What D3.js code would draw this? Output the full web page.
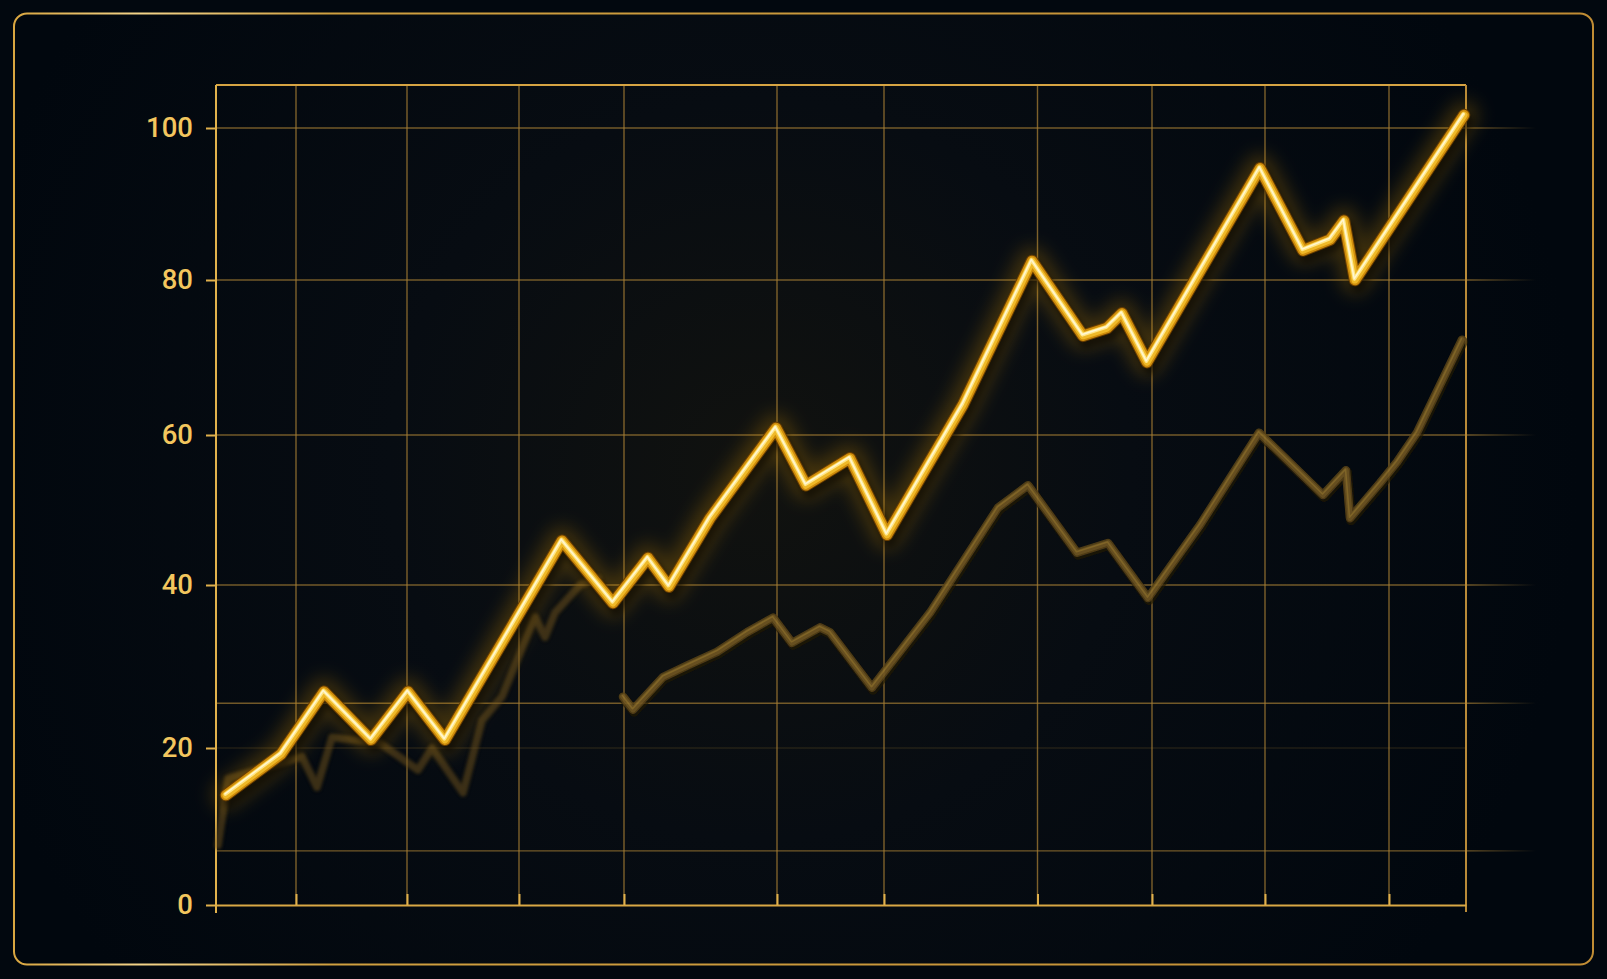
<!DOCTYPE html>
<html><head><meta charset="utf-8">
<script src="https://cdn.jsdelivr.net/npm/d3@7"></script>
<style>html,body{margin:0;padding:0;background:#02080f;overflow:hidden}</style>
</head><body><svg id="c" width="1607" height="979"></svg>
<script>
// ---- data ----
const yTicks = [0, 20, 40, 60, 80, 100];
const yGrid = [100, 80, 60, 40, 25.5, 6.9];
const yGridFaint = [20];
const xGrid = [6.4, 15.28, 24.24, 32.64, 44.88, 53.44, 65.72, 74.88, 83.92, 93.84];

const mainX = [0.8, 5.2, 8.64, 12.4, 15.36, 18.32, 27.68, 31.76, 34.56, 36.24, 39.52, 44.8, 47.2, 50.72, 53.68, 59.76, 65.28, 69.36, 71.28, 72.48, 74.48, 83.52, 86.96, 89.12, 90.24, 91.12, 99.84];
const mainY = [14.0, 19.2, 26.9, 21.0, 26.9, 21.0, 45.9, 37.8, 43.6, 39.8, 48.9, 60.9, 53.3, 56.9, 46.7, 63.9, 82.5, 72.8, 73.8, 75.7, 69.4, 94.7, 83.9, 85.3, 87.8, 80.0, 101.7];

const echoAX = [0.16, 0.96, 6.88, 8.08, 9.28, 13.12, 16.16, 17.28, 19.76, 21.28, 22.88, 25.52, 26.32, 27.12, 29.12, 30.56];
const echoAY = [7.6, 16.1, 18.9, 15.0, 21.3, 20.6, 17.2, 20.0, 14.3, 23.4, 26.3, 36.1, 33.6, 36.6, 40.0, 40.9];

const echoBX = [32.56, 33.36, 35.76, 37.68, 40.08, 42.48, 44.56, 46.08, 48.32, 49.12, 52.48, 57.12, 62.56, 64.96, 68.88, 71.36, 74.56, 78.72, 83.44, 85.92, 88.56, 90.4, 90.72, 93.12, 94.48, 96.08, 99.68];
const echoBY = [26.3, 24.7, 28.7, 30.1, 31.8, 34.2, 36.0, 32.9, 34.8, 34.2, 27.4, 36.6, 50.3, 53.3, 44.3, 45.6, 38.4, 48.0, 60.3, 56.3, 52.0, 55.3, 48.9, 53.6, 56.4, 60.3, 72.3];

// ---- layout ----
const W = 1607, H = 979;
const L = 216, R = 1466, T = 85, B = 905;
const svg = d3.select('#c');
const x = d3.scaleLinear().domain([0, 100]).range([L, R]);
const y = d3.scaleLinear().domain([0, 20, 40, 60, 80, 100]).range([905, 748, 585, 435, 280, 128]);

const defs = svg.append('defs');
const bg = defs.append('radialGradient').attr('id', 'bg').attr('gradientUnits', 'userSpaceOnUse')
  .attr('cx', 760).attr('cy', 470).attr('r', 820);
bg.append('stop').attr('offset', 0).attr('stop-color', '#11120f');
bg.append('stop').attr('offset', 0.45).attr('stop-color', '#070c12');
bg.append('stop').attr('offset', 1).attr('stop-color', '#01070e');

const gf = defs.append('linearGradient').attr('id', 'gfade').attr('gradientUnits', 'userSpaceOnUse')
  .attr('x1', L).attr('x2', R + 70).attr('y1', 0).attr('y2', 0);
gf.append('stop').attr('offset', 0).attr('stop-color', '#a07a32').attr('stop-opacity', 0.7);
gf.append('stop').attr('offset', (R - L) / (R + 70 - L)).attr('stop-color', '#a07a32').attr('stop-opacity', 0.7);
gf.append('stop').attr('offset', 1).attr('stop-color', '#a07a32').attr('stop-opacity', 0);

const fr = defs.append('linearGradient').attr('id', 'frameg').attr('gradientUnits', 'userSpaceOnUse')
  .attr('x1', 14).attr('x2', 1593).attr('y1', 0).attr('y2', 0);
fr.append('stop').attr('offset', 0).attr('stop-color', '#d9a640');
fr.append('stop').attr('offset', 0.08).attr('stop-color', '#f3d48a');
fr.append('stop').attr('offset', 0.2).attr('stop-color', '#d0a040');
fr.append('stop').attr('offset', 1).attr('stop-color', '#c08c34');

const glow = defs.append('filter').attr('id', 'glow').attr('x', '-20%').attr('y', '-20%').attr('width', '140%').attr('height', '140%');
glow.append('feGaussianBlur').attr('stdDeviation', 9);
const shadow = defs.append('filter').attr('id', 'shadow').attr('x', '-20%').attr('y', '-20%').attr('width', '140%').attr('height', '140%');
shadow.append('feGaussianBlur').attr('stdDeviation', 3);
const soft = defs.append('filter').attr('id', 'soft').attr('x', '-20%').attr('y', '-20%').attr('width', '140%').attr('height', '140%');
soft.append('feGaussianBlur').attr('stdDeviation', 1.6);
const softer = defs.append('filter').attr('id', 'softer').attr('x', '-20%').attr('y', '-20%').attr('width', '140%').attr('height', '140%');
softer.append('feGaussianBlur').attr('stdDeviation', 0.6);

// background
svg.append('rect').attr('width', W).attr('height', H).attr('fill', '#02080f');
svg.append('rect').attr('x', 14).attr('y', 13.5).attr('width', 1579).attr('height', 951).attr('rx', 13)
  .attr('fill', 'url(#bg)').attr('stroke', 'url(#frameg)').attr('stroke-width', 2);

// grid
const grid = svg.append('g');
grid.selectAll('line.h').data(yGrid).join('line').attr('class', 'h')
  .attr('x1', L).attr('x2', R + 70).attr('y1', d => y(d)).attr('y2', d => y(d))
  .attr('stroke', 'url(#gfade)').attr('stroke-width', 1.4);
grid.selectAll('line.hf').data(yGridFaint).join('line').attr('class', 'hf')
  .attr('x1', L).attr('x2', R).attr('y1', d => y(d)).attr('y2', d => y(d))
  .attr('stroke', '#a07a32').attr('stroke-opacity', 0.28).attr('stroke-width', 1.2);
grid.selectAll('line.v').data(xGrid).join('line').attr('class', 'v')
  .attr('x1', d => x(d)).attr('x2', d => x(d)).attr('y1', T).attr('y2', B)
  .attr('stroke', '#a67d34').attr('stroke-opacity', 0.75).attr('stroke-width', 1.4);

// plot frame
svg.append('line').attr('x1', L).attr('x2', R).attr('y1', T).attr('y2', T).attr('stroke', '#d6a443').attr('stroke-width', 2);
svg.append('line').attr('x1', L).attr('x2', L).attr('y1', T).attr('y2', B + 8).attr('stroke', '#e2b24c').attr('stroke-width', 2);
svg.append('line').attr('x1', R).attr('x2', R).attr('y1', T).attr('y2', B + 7).attr('stroke', '#b98a38').attr('stroke-width', 2);

// axes
const xAxis = svg.append('g').attr('transform', `translate(0,${B})`)
  .call(d3.axisBottom(x).tickValues(xGrid).tickSize(-11).tickSizeOuter(0).tickFormat(''));
xAxis.select('.domain').attr('stroke', '#d9a845').attr('stroke-width', 2);
xAxis.selectAll('.tick line').attr('stroke', '#e0b04c').attr('stroke-width', 2);

const yAxis = svg.append('g').attr('transform', `translate(${L},0)`)
  .call(d3.axisLeft(y).tickValues(yTicks).tickSize(10).tickSizeOuter(0).tickPadding(13));
yAxis.select('.domain').remove();
yAxis.selectAll('.tick line').attr('stroke', '#e0b04c').attr('stroke-width', 2);
yAxis.selectAll('.tick text').attr('fill', '#f3c65e').attr('font-family', 'Roboto, "Noto Sans", sans-serif')
  .attr('font-size', 27.5).attr('font-weight', 500);

// lines
const line = d3.line().x(d => x(d[0])).y(d => y(d[1]));
const mainData = mainX.map((v, i) => [v, mainY[i]]);
const echoA = echoAX.map((v, i) => [v, echoAY[i]]);
const echoB = echoBX.map((v, i) => [v, echoBY[i]]);

function strokePath(g, data, o) {
  return g.append('path').datum(data).attr('d', line).attr('fill', 'none')
    .attr('stroke', o.c).attr('stroke-width', o.w).attr('stroke-opacity', o.op ?? 1)
    .attr('stroke-linejoin', 'round').attr('stroke-linecap', 'round')
    .attr('filter', o.f || null).attr('transform', o.t || null);
}

const ge = svg.append('g');
// faint early echo
const ga = ge.append('g').attr('filter', 'url(#soft)').attr('opacity', 0.5);
strokePath(ga, echoA, { c: '#2c200a', w: 9, op: 0.9 });
strokePath(ga, echoA, { c: '#7a5c20', w: 6.5, op: 0.9 });
// later echo
const gb = ge.append('g').attr('filter', 'url(#softer)').attr('opacity', 0.9);
strokePath(gb, echoB, { c: '#241a08', w: 10, op: 0.7, t: 'translate(1,2)' });
strokePath(gb, echoB, { c: '#5a4318', w: 8.5, op: 0.95 });
strokePath(gb, echoB, { c: '#765c23', w: 5.5, op: 0.85 });
strokePath(gb, echoB, { c: '#b08c3a', w: 1.6, op: 0.45, t: 'translate(-0.5,-1)' });

// main glowing line
const gm = svg.append('g');
strokePath(gm, mainData, { c: '#e29a10', w: 28, op: 0.25, f: 'url(#glow)' });
strokePath(gm, mainData, { c: '#000000', w: 13, op: 0.55, f: 'url(#shadow)', t: 'translate(3,6)' });
strokePath(gm, mainData, { c: '#6a3e00', w: 12.5 });
strokePath(gm, mainData, { c: '#cf8d0c', w: 10.5 });
strokePath(gm, mainData, { c: '#efb928', w: 7 });
strokePath(gm, mainData, { c: '#ffe98e', w: 3.6, op: 0.95, t: 'translate(-0.6,-1)' });
strokePath(gm, mainData, { c: '#fffbe6', w: 1.4, op: 0.8, t: 'translate(-0.8,-1.3)' });
</script>
</body></html>
